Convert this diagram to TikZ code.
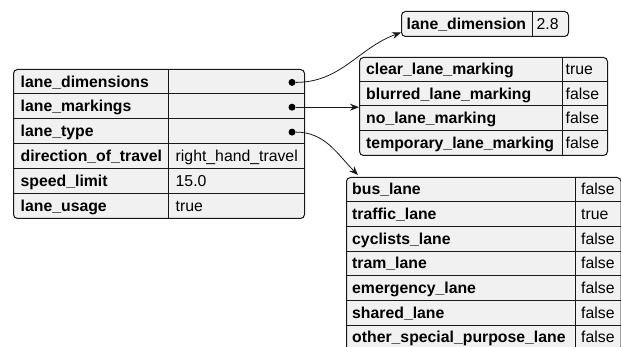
\documentclass[tikz,border=0pt]{standalone}
\usepackage{fontspec}
\setmainfont{Liberation Sans}
\usetikzlibrary{arrows.meta, calc, positioning}
\definecolor{B}{HTML}{181818}
\definecolor{G}{HTML}{F1F1F1}

\begin{document}
\begin{tikzpicture}[x=1pt, y=-1pt,
    >={Stealth[length=9pt, width=7pt, inset=3pt]},
    tbl/.style = {draw=B, fill=G, line width=1pt, rounded corners=4pt,
      inner sep=0pt, anchor=north west},
    rule/.style = {draw=B, line width=1pt},
    link/.style = {->, draw=B, line width=0.8pt},
    key/.style = {anchor=west, inner sep=0pt, text height=11.2pt,
      text depth=0pt, font=\fontsize{15.8}{18}\selectfont\bfseries},
    val/.style = {key, font=\fontsize{15.8}{18}\selectfont},
    pin/.style = {circle, fill=black, inner sep=0pt, minimum size=7pt}]
  \useasboundingbox (0,0) rectangle (621,347);

  % lane
  \node[tbl, minimum width=291pt, minimum height=149pt] (lane) at (13,69) {};
  \draw[rule] (168,69) -- (168,218);
  \foreach \i in {1,...,5}
    \draw[rule] (13,{69+\i*24.83}) -- (304,{69+\i*24.83});
  \foreach \k/\v [count=\i] in {lane\_dimensions/, lane\_markings/,
      lane\_type/, direction\_of\_travel/right\_hand\_travel,
      speed\_limit/15.0, lane\_usage/true}
  {
    \node[key] (lk\i) at (20.5,{69+(\i-0.5)*24.83}) {\k};
    \node[val] (lv\i) at (175.5,{69+(\i-0.5)*24.83}) {\v};
  }
  \node[pin] (dims) at (292,82.4) {};
  \node[pin] (marks) at (292,107.2) {};
  \node[pin] (types) at (292,132.1) {};

  % lane_dimension
  \node[tbl, minimum width=167pt, minimum height=25pt] (dim) at (401,11) {};
  \draw[rule] (532,11) -- (532,36);
  \node[key] (dk) at (406.5,23.5) {lane\_dimension};
  \node[val] (dv) at (536.5,23.5) {2.8};

  % lane_markings
  \node[tbl, minimum width=248pt, minimum height=98pt] (mark) at (359,57) {};
  \draw[rule] (562,57) -- (562,155);
  \foreach \i in {1,2,3}
    \draw[rule] (359,{57+\i*24.5}) -- (607,{57+\i*24.5});
  \foreach \k/\v [count=\i] in {clear\_lane\_marking/true,
      blurred\_lane\_marking/false, no\_lane\_marking/false,
      temporary\_lane\_marking/false}
  {
    \node[key] (mk\i) at (366,{57+(\i-0.5)*24.5}) {\k};
    \node[val] (mv\i) at (565.5,{57+(\i-0.5)*24.5}) {\v};
  }

  % lane_type
  \node[tbl, minimum width=274.5pt, minimum height=173pt] (type) at (346,177) {};
  \draw[rule] (575,177) -- (575,350);
  \foreach \i in {1,...,6}
    \draw[rule] (346,{177+\i*24.67}) -- (620.5,{177+\i*24.67});
  \foreach \k/\v [count=\i] in {bus\_lane/false, traffic\_lane/true,
      cyclists\_lane/false, tram\_lane/false, emergency\_lane/false,
      shared\_lane/false, other\_special\_purpose\_lane/false}
  {
    \node[key] (tk\i) at (352,{177+(\i-0.5)*24.67}) {\k};
    \node[val] (tv\i) at (581,{177+(\i-0.5)*24.67}) {\v};
  }

  % links
  \draw[link] (dims) to[out=0, in=200] ([yshift=-8.5pt]dim.west);
  \draw[link] (marks) -- (marks -| mark.west);
  \draw[link] (types) to[out=0, in=135] ([shift={(12pt,2pt)}]type.north west);
\end{tikzpicture}
\end{document}
